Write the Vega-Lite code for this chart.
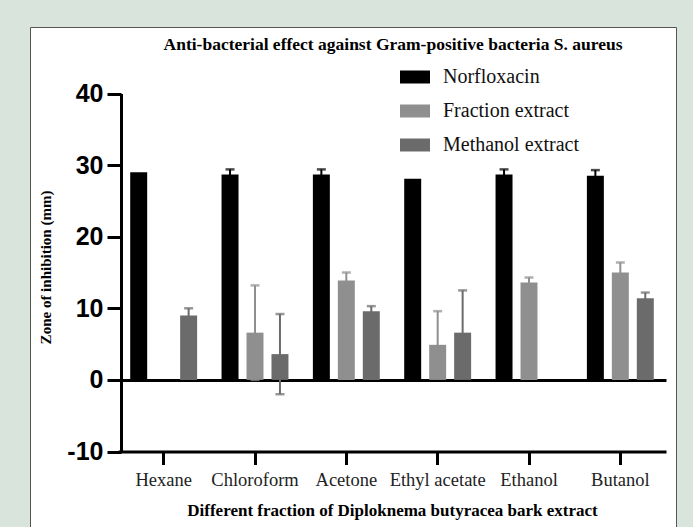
{
  "$schema": "https://vega.github.io/schema/vega-lite/v6.json",
  "width": 646,
  "height": 500,
  "autosize": "none",
  "padding": {"left": 30, "top": 27, "right": 17, "bottom": 0},
  "background": "#d8e4dc",
  "config": {"view": {"fill": "white", "stroke": "#555555", "strokeWidth": 1}},
  "title": {
    "text": "Anti-bacterial effect  against Gram-positive bacteria S. aureus",
    "font": "Liberation Serif",
    "fontSize": 17.5,
    "fontWeight": "bold",
    "color": "black",
    "anchor": "middle",
    "frame": "group",
    "offset": 0,
    "baseline": "middle",
    "dx": 40,
    "dy": 35
  },
  "data": {
    "values": [
      {"fraction": "Hexane", "series": "Norfloxacin", "mean": 29.0, "lo": 29.0, "hi": 29.0},
      {"fraction": "Hexane", "series": "Methanol extract", "mean": 9.0, "lo": 8.0, "hi": 10.0},
      {"fraction": "Chloroform", "series": "Norfloxacin", "mean": 28.7, "lo": 28.0, "hi": 29.4},
      {"fraction": "Chloroform", "series": "Fraction extract", "mean": 6.6, "lo": 0.0, "hi": 13.2},
      {"fraction": "Chloroform", "series": "Methanol extract", "mean": 3.6, "lo": -2.0, "hi": 9.2},
      {"fraction": "Acetone", "series": "Norfloxacin", "mean": 28.7, "lo": 28.0, "hi": 29.4},
      {"fraction": "Acetone", "series": "Fraction extract", "mean": 13.9, "lo": 12.8, "hi": 15.0},
      {"fraction": "Acetone", "series": "Methanol extract", "mean": 9.6, "lo": 8.9, "hi": 10.3},
      {"fraction": "Ethyl acetate", "series": "Norfloxacin", "mean": 28.1, "lo": 28.1, "hi": 28.1},
      {"fraction": "Ethyl acetate", "series": "Fraction extract", "mean": 4.9, "lo": 0.2, "hi": 9.6},
      {"fraction": "Ethyl acetate", "series": "Methanol extract", "mean": 6.6, "lo": 0.7, "hi": 12.5},
      {"fraction": "Ethanol", "series": "Norfloxacin", "mean": 28.7, "lo": 28.0, "hi": 29.4},
      {"fraction": "Ethanol", "series": "Fraction extract", "mean": 13.6, "lo": 12.9, "hi": 14.3},
      {"fraction": "Butanol", "series": "Norfloxacin", "mean": 28.5, "lo": 27.7, "hi": 29.3},
      {"fraction": "Butanol", "series": "Fraction extract", "mean": 15.0, "lo": 13.6, "hi": 16.4},
      {"fraction": "Butanol", "series": "Methanol extract", "mean": 11.4, "lo": 10.6, "hi": 12.2}
    ]
  },
  "encoding": {
    "x": {
      "field": "fraction",
      "type": "nominal",
      "sort": null,
      "scale": {
        "domain": ["Hexane", "Chloroform", "Acetone", "Ethyl acetate", "Ethanol", "Butanol"],
        "range": [88, 636],
        "paddingInner": 0.18,
        "paddingOuter": 0.09
      },
      "axis": {
        "offset": -75.5,
        "domainColor": "black",
        "domainWidth": 3,
        "tickColor": "black",
        "tickWidth": 3,
        "tickSize": 13,
        "labelAngle": 0,
        "labelFont": "Liberation Serif",
        "labelFontSize": 18.5,
        "labelColor": "#222222",
        "labelPadding": 6,
        "title": "Different fraction of Diploknema butyracea bark extract",
        "titleFont": "Liberation Serif",
        "titleFontSize": 17,
        "titleFontWeight": "bold",
        "titleColor": "black",
        "titlePadding": 13
      }
    },
    "xOffset": {
      "field": "series",
      "type": "nominal",
      "scale": {
        "domain": ["Norfloxacin", "Fraction extract", "Methanol extract"],
        "paddingInner": 0.32,
        "paddingOuter": 0.16
      }
    }
  },
  "layer": [
    {
      "transform": [{"filter": "datum.series === 'Norfloxacin' && datum.hi > datum.lo"}],
      "layer": [
        {"mark": {"type": "rule", "strokeWidth": 2, "color": "#000000"}, "encoding": {"y": {"field": "lo", "type": "quantitative", "title": "Zone of inhibition (mm)"}, "y2": {"field": "hi"}}},
        {"mark": {"type": "tick", "orient": "horizontal", "size": 9, "thickness": 2.5, "color": "#000000"}, "encoding": {"y": {"field": "hi", "type": "quantitative", "title": "Zone of inhibition (mm)"}}},
        {"mark": {"type": "tick", "orient": "horizontal", "size": 9, "thickness": 2.5, "color": "#000000"}, "encoding": {"y": {"field": "lo", "type": "quantitative", "title": "Zone of inhibition (mm)"}}}
      ]
    },
    {
      "transform": [{"filter": "datum.series === 'Fraction extract' && datum.hi > datum.lo"}],
      "layer": [
        {"mark": {"type": "rule", "strokeWidth": 2, "color": "#8f8f8f"}, "encoding": {"y": {"field": "lo", "type": "quantitative", "title": "Zone of inhibition (mm)"}, "y2": {"field": "hi"}}},
        {"mark": {"type": "tick", "orient": "horizontal", "size": 9, "thickness": 2.5, "color": "#8f8f8f"}, "encoding": {"y": {"field": "hi", "type": "quantitative", "title": "Zone of inhibition (mm)"}}},
        {"mark": {"type": "tick", "orient": "horizontal", "size": 9, "thickness": 2.5, "color": "#8f8f8f"}, "encoding": {"y": {"field": "lo", "type": "quantitative", "title": "Zone of inhibition (mm)"}}}
      ]
    },
    {
      "transform": [{"filter": "datum.series === 'Methanol extract' && datum.hi > datum.lo"}],
      "layer": [
        {"mark": {"type": "rule", "strokeWidth": 2, "color": "#6b6b6b"}, "encoding": {"y": {"field": "lo", "type": "quantitative", "title": "Zone of inhibition (mm)"}, "y2": {"field": "hi"}}},
        {"mark": {"type": "tick", "orient": "horizontal", "size": 9, "thickness": 2.5, "color": "#6b6b6b"}, "encoding": {"y": {"field": "hi", "type": "quantitative", "title": "Zone of inhibition (mm)"}}},
        {"mark": {"type": "tick", "orient": "horizontal", "size": 9, "thickness": 2.5, "color": "#6b6b6b"}, "encoding": {"y": {"field": "lo", "type": "quantitative", "title": "Zone of inhibition (mm)"}}}
      ]
    },
    {
      "mark": {"type": "bar"},
      "encoding": {
        "y": {
          "field": "mean",
          "type": "quantitative",
          "title": "Zone of inhibition (mm)",
          "scale": {"domain": [-10, 40], "range": [424.5, 66.5], "nice": false, "zero": false},
          "axis": {
            "values": [-10, 0, 10, 20, 30, 40],
            "labelExpr": "'' + datum.value",
            "offset": -91,
            "domainColor": "black",
            "domainWidth": 3,
            "tickColor": "black",
            "tickWidth": 3,
            "tickSize": 14,
            "labelFont": "Liberation Sans",
            "labelFontWeight": "bold",
            "labelFontSize": 25,
            "labelColor": "black",
            "labelPadding": 4,
            "grid": true,
            "gridColor": "black",
            "gridWidth": 3,
            "gridOpacity": {"condition": {"test": "datum.value === 0", "value": 1}, "value": 0},
            "titleFont": "Liberation Serif",
            "titleFontSize": 15,
            "titleFontWeight": "bold",
            "titleColor": "black",
            "titleAngle": -90,
            "titleAlign": "center",
            "titleBaseline": "middle",
            "titleX": -76,
            "titleY": 240
          }
        },
        "color": {
          "field": "series",
          "type": "nominal",
          "scale": {"domain": ["Norfloxacin", "Fraction extract", "Methanol extract"], "range": ["#000000", "#8f8f8f", "#6b6b6b"]},
          "legend": {
            "orient": "none",
            "legendX": 375,
            "legendY": 40,
            "title": null,
            "padding": 0,
            "symbolType": "M-1.5,-0.65L1.5,-0.65L1.5,0.65L-1.5,0.65Z",
            "symbolSize": 400,
            "symbolStrokeWidth": 0,
            "symbolOpacity": 1,
            "labelFont": "Liberation Serif",
            "labelFontSize": 20,
            "labelColor": "#111111",
            "labelOffset": 18,
            "rowPadding": 14
          }
        }
      }
    }
  ]
}
